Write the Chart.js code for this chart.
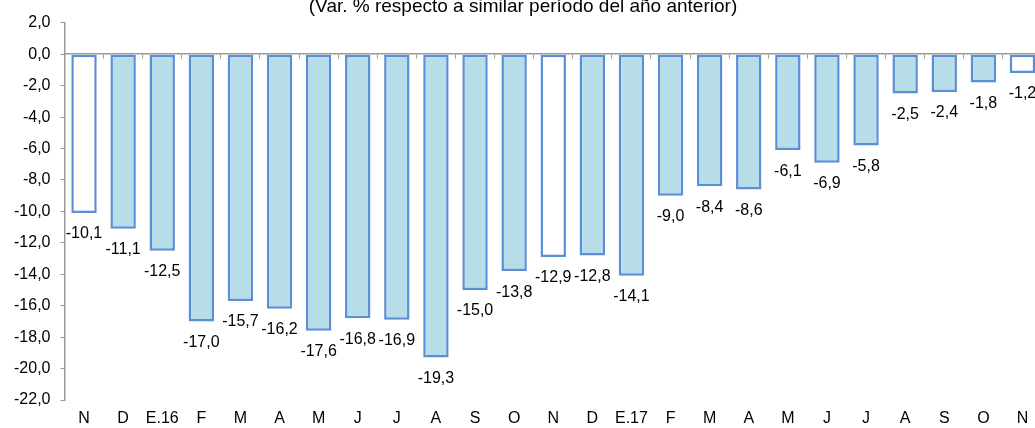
<!DOCTYPE html>
<html>
<head>
<meta charset="utf-8">
<script src="https://cdn.jsdelivr.net/npm/chart.js@4.4.1/dist/chart.umd.min.js"></script>
<style>
    html, body { margin: 0; padding: 0; overflow: hidden; background: #fff; }
    #wrap { width: 1046px; height: 428px; }
</style>
</head>
<body>
<div id="wrap"><canvas id="varChart"></canvas></div>
<script>
// Data
const months = ["N", "D", "E.16", "F", "M", "A", "M", "J", "J", "A", "S", "O",
    "N", "D", "E.17", "F", "M", "A", "M", "J", "J", "A", "S", "O", "N"];
const variation = [-10.1, -11.1, -12.5, -17.0, -15.7, -16.2, -17.6, -16.8, -16.9, -19.3, -15.0, -13.8,
    -12.9, -12.8, -14.1, -9.0, -8.4, -8.6, -6.1, -6.9, -5.8, -2.5, -2.4, -1.8, -1.2];
const whiteBars = [0, 12, 24];
const titleText = "(Var. % respecto a similar período del año anterior)";

const FONT = "'Liberation Sans', Arial, sans-serif";
const AXIS_GREY = "#9a9a9a";

function formatComma(v) {
    return Number(v).toFixed(1).replace(".", ",");
}

// Value labels under each bar end
const barLabels = {
    id: "barLabels",
    afterDatasetsDraw(chart) {
        const ctx = chart.ctx;
        const meta = chart.getDatasetMeta(0);
        ctx.save();
        ctx.font = "16px " + FONT;
        ctx.fillStyle = "#000";
        ctx.textAlign = "center";
        ctx.textBaseline = "middle";
        meta.data.forEach((bar, i) => {
            ctx.fillText(formatComma(variation[i]), bar.x, bar.y + 21);
        });
        ctx.restore();
    }
};

const ctx = document.getElementById("varChart").getContext("2d");
new Chart(ctx, {
    type: "bar",
    data: {
        labels: months,
        datasets: [{
            data: variation,
            backgroundColor: months.map((m, i) => whiteBars.includes(i) ? "#ffffff" : "#b7dde8"),
            borderColor: "#5b8ed8",
            borderWidth: 2.5,
            borderSkipped: false,
            barPercentage: 0.65,
            categoryPercentage: 1.0
        }]
    },
    options: {
        responsive: true,
        maintainAspectRatio: false,
        animation: false,
        layout: { padding: { left: 4, right: 4, top: 0, bottom: 0 } },
        plugins: {
            legend: { display: false },
            tooltip: { enabled: false },
            title: {
                display: true,
                text: titleText,
                color: "#000",
                font: { family: FONT, size: 19, weight: "normal" },
                padding: { top: -5, bottom: 5 }
            }
        },
        scales: {
            x: {
                type: "category",
                position: "bottom",
                afterFit: (scale) => { scale.height = 28; },
                grid: { display: false, drawTicks: false },
                border: { display: false },
                ticks: {
                    color: "#000",
                    padding: 9,
                    maxRotation: 0,
                    autoSkip: false,
                    font: { family: FONT, size: 16 }
                }
            },
            // zero line with the small category ticks
            x0: {
                type: "category",
                labels: months,
                position: { y: 0 },
                offset: true,
                afterFit: (scale) => { scale.height = 0; },
                grid: {
                    offset: true,
                    drawOnChartArea: false,
                    tickLength: 4,
                    tickColor: AXIS_GREY
                },
                border: { color: AXIS_GREY, width: 1.5 },
                ticks: { display: false }
            },
            y: {
                min: -22,
                max: 2,
                grid: {
                    color: "transparent",
                    tickColor: AXIS_GREY,
                    tickLength: 4
                },
                border: { color: AXIS_GREY, width: 1.5 },
                ticks: {
                    stepSize: 2,
                    color: "#000",
                    padding: 10,
                    font: { family: FONT, size: 16 },
                    callback: (v) => formatComma(v)
                }
            }
        }
    },
    plugins: [barLabels]
});
</script>
</body>
</html>
